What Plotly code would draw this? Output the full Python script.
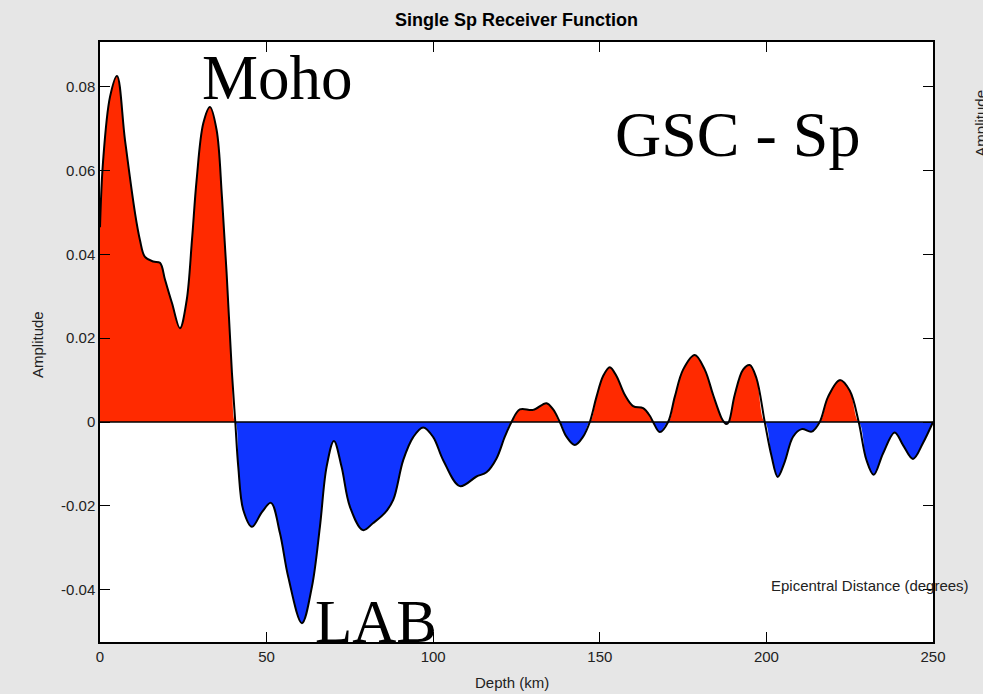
import plotly.graph_objects as go

# Depth (km) and amplitude
depth = [0, 0.9, 3, 5.1, 7.5, 10.5, 12, 13.5, 16, 18, 19.5, 21.6, 24, 26, 27.6, 29, 31, 33, 35, 36.6, 38, 39.6, 40.6,
         41.5, 43, 45.6, 48.6, 51.3, 54, 56.5, 60.6, 63.6, 66, 68, 70.2, 72.5, 75, 78.9, 82, 85.5, 88, 91, 94, 97,
         100, 103, 108, 113, 116, 119, 121.5, 123.5,
         126, 130, 134, 136, 138, 140, 142.5, 145, 147,
         149, 151, 153, 155, 157.5, 160, 163, 165, 166, 168, 170.5,
         172.5, 175, 178.5, 181.5, 184, 186.5, 187.3, 188, 188.7, 190.5, 193, 195, 197, 199.5,
         201.5, 203.4, 205.5, 208, 210.6, 213.6, 216,
         218.5, 222, 225, 227.7,
         230, 232.2, 235, 238.5, 241, 244, 247, 250]
amplitude = [0.0465, 0.062, 0.0776, 0.0826, 0.0673, 0.0499, 0.0434, 0.0394, 0.0383, 0.038, 0.034, 0.0284, 0.0224, 0.029,
             0.0434, 0.0578, 0.0713, 0.0752, 0.0697, 0.0537, 0.0355, 0.0117, 0.0,
             -0.0107, -0.021, -0.025, -0.0215, -0.0193, -0.0265, -0.037, -0.048, -0.0393, -0.025, -0.0107, -0.0045,
             -0.0107, -0.0202, -0.0258, -0.0241, -0.0217, -0.0186, -0.0091, -0.0036, -0.0013,
             -0.0036, -0.0091, -0.0153, -0.013, -0.012, -0.0087, -0.0035, 0.0,
             0.003, 0.0029, 0.0045, 0.003, 0.0, -0.0035, -0.0055, -0.0035, 0.0,
             0.006, 0.011, 0.0131, 0.011, 0.0065, 0.0038, 0.0033, 0.0015, 0.0, -0.0024, 0.0,
             0.006, 0.0125, 0.016, 0.0125, 0.0065, 0.001, 0.0, -0.0005, 0.0, 0.0065, 0.0125, 0.0136, 0.0105, 0.0,
             -0.008, -0.0131, -0.0095, -0.0035, -0.0017, -0.0023, 0.0,
             0.006, 0.010, 0.0075, 0.0,
             -0.009, -0.0126, -0.0075, -0.0025, -0.0055, -0.0088, -0.005, 0.0]

x_ticks = [0, 50, 100, 150, 200, 250]
x_tick_labels = ["0", "50", "100", "150", "200", "250"]
y_ticks = [0.08, 0.06, 0.04, 0.02, 0, -0.02, -0.04]
y_tick_labels = ["0.08", "0.06", "0.04", "0.02", "0", "-0.02", "-0.04"]

RED = "#ff2a00"
BLUE = "#1034ff"

pos = [max(v, 0.0) for v in amplitude]
neg = [min(v, 0.0) for v in amplitude]

fig = go.Figure()
fig.add_trace(go.Scatter(x=depth, y=pos, mode="lines", fill="tozeroy", fillcolor=RED,
                         line=dict(color=RED, width=0, shape="spline"), hoverinfo="skip"))
fig.add_trace(go.Scatter(x=depth, y=neg, mode="lines", fill="tozeroy", fillcolor=BLUE,
                         line=dict(color=BLUE, width=0, shape="spline"), hoverinfo="skip"))
fig.add_trace(go.Scatter(x=depth, y=amplitude, mode="lines",
                         line=dict(color="black", width=2, shape="spline")))

fig.add_shape(type="line", xref="x", yref="y", x0=0, x1=250, y0=0, y1=0,
              line=dict(color="black", width=1.5), layer="above")

SANS = "Liberation Sans, Arial, sans-serif"
small = dict(family=SANS, size=15, color="#222")
serif = "Liberation Serif, Times New Roman, serif"

fig.update_layout(
    width=983, height=694,
    margin=dict(l=100, r=50, t=42, b=52),
    paper_bgcolor="#e6e6e6", plot_bgcolor="white",
    showlegend=False,
    font=small,
    xaxis=dict(range=[0, 250], tickvals=x_ticks, ticktext=x_tick_labels, ticks="inside", ticklen=10,
               tickcolor="black", showline=True, linecolor="black", linewidth=1.5, mirror="ticks",
               showgrid=False, zeroline=False, tickfont=small),
    yaxis=dict(range=[-0.0525, 0.0907], tickvals=y_ticks, ticktext=y_tick_labels, ticks="inside", ticklen=10,
               tickcolor="black", showline=True, linecolor="black", linewidth=1.5, mirror="ticks",
               showgrid=False, zeroline=False, tickfont=small),
    annotations=[
        dict(text="<b>Single Sp Receiver Function</b>", xref="paper", yref="paper", x=0.5, y=1.0367,
             showarrow=False, xanchor="center", yanchor="middle",
             font=dict(family=SANS, size=18, color="black")),
        dict(text="Amplitude", xref="paper", yref="paper", x=-0.0756, y=0.495, textangle=-90,
             showarrow=False, xanchor="center", yanchor="middle", font=small),
        dict(text="Depth (km)", xref="paper", yref="paper", x=0.4946, y=-0.0667,
             showarrow=False, xanchor="center", yanchor="middle", font=small),
        dict(text="Epicentral Distance (degrees)", xref="paper", yref="paper", x=0.924, y=0.095,
             showarrow=False, xanchor="center", yanchor="middle", font=small),
        dict(text="Amplitude", xref="paper", yref="paper", x=1.056, y=0.865, textangle=-90,
             showarrow=False, xanchor="center", yanchor="middle", font=small),
        dict(text="Moho", xref="x", yref="y", x=53.4, y=0.0768, yshift=-15,
             showarrow=False, xanchor="center", yanchor="bottom",
             font=dict(family=serif, size=63, color="black")),
        dict(text="GSC - Sp", xref="x", yref="y", x=191.4, y=0.0632, yshift=-15,
             showarrow=False, xanchor="center", yanchor="bottom",
             font=dict(family=serif, size=64, color="black")),
        dict(text="LAB", xref="x", yref="y", x=82.8, y=-0.0525, yshift=-15,
             showarrow=False, xanchor="center", yanchor="bottom",
             font=dict(family=serif, size=61, color="black")),
    ],
)

fig.write_html("out.html")
